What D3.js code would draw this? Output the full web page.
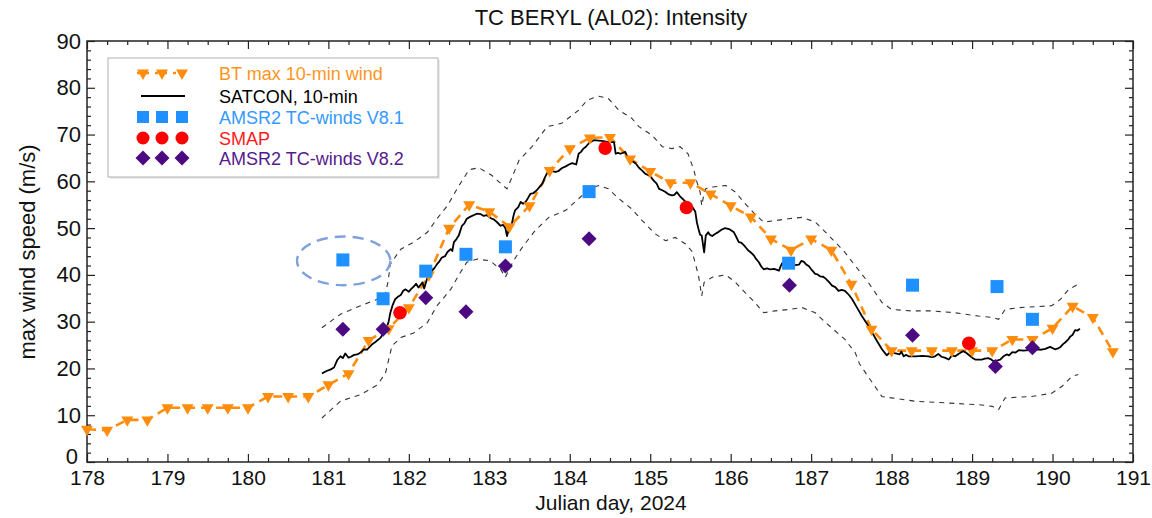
<!DOCTYPE html>
<html><head><meta charset="utf-8">
<script src="https://cdn.jsdelivr.net/npm/d3@7"></script>
<style>body{margin:0;background:#fff} text{font-family:"Liberation Sans",Arial,Helvetica,sans-serif}</style>
</head><body><svg id="c" width="1152" height="518"></svg>
<script>
const xTickLabels = [178,179,180,181,182,183,184,185,186,187,188,189,190,191];
const yTickLabels = [0,10,20,30,40,50,60,70,80,90];

const btDays = [178,178.25,178.5,178.75,179,179.25,179.5,179.75,180,180.25,180.5,180.75,181,181.25,181.5,181.75,182,182.25,182.5,182.75,183,183.25,183.5,183.75,184,184.25,184.5,184.75,185,185.25,185.5,185.75,186,186.25,186.5,186.75,187,187.25,187.5,187.75,188,188.25,188.5,188.75,189,189.25,189.5,189.75,190,190.25,190.5,190.75];
const btWind = [7.0,6.8,9.0,9.0,11.6,11.6,11.6,11.6,11.6,14.0,14.0,14.0,16.5,18.9,26.0,28.5,33.0,40.0,50.0,55.0,53.5,50.3,54.8,62.3,67.0,69.3,69.4,64.8,62.1,59.7,59.7,57.3,54.8,52.4,47.7,45.3,47.7,45.3,38.0,28.4,23.8,23.8,23.8,23.8,23.8,23.8,26.2,26.2,28.6,33.3,30.9,23.6];

const satcon = [[180.92,18.9],[180.97,19.4],[181.03,19.8],[181.07,20.2],[181.11,21.8],[181.15,22.6],[181.18,22.2],[181.21,23.2],[181.25,22.3],[181.28,22.5],[181.32,22.9],[181.36,23.0],[181.40,23.4],[181.44,24.1],[181.48,24.0],[181.54,25.1],[181.58,25.6],[181.65,26.6],[181.68,27.4],[181.71,28.0],[181.75,30.1],[181.77,31.9],[181.80,33.6],[181.83,34.8],[181.87,35.4],[181.90,35.7],[181.93,36.6],[181.96,36.9],[182.00,36.4],[182.03,37.0],[182.06,37.5],[182.09,38.1],[182.12,37.3],[182.17,38.4],[182.19,37.1],[182.23,39.4],[182.26,40.1],[182.29,40.9],[182.32,41.5],[182.35,42.3],[182.38,42.9],[182.41,43.7],[182.45,44.0],[182.48,44.9],[182.52,45.5],[182.54,45.1],[182.56,47.0],[182.59,47.6],[182.62,48.4],[182.66,50.5],[182.69,51.0],[182.72,52.0],[182.76,52.4],[182.81,52.8],[182.85,53.1],[182.89,53.0],[182.93,52.6],[182.97,52.8],[183.02,52.1],[183.06,51.8],[183.10,51.2],[183.14,50.5],[183.17,50.7],[183.20,50.0],[183.22,48.3],[183.24,49.6],[183.26,50.5],[183.28,50.9],[183.30,52.6],[183.32,53.8],[183.36,54.5],[183.39,55.6],[183.42,55.2],[183.45,55.6],[183.48,56.4],[183.51,57.3],[183.55,57.5],[183.59,58.1],[183.62,58.7],[183.66,59.5],[183.69,60.8],[183.72,61.8],[183.75,61.9],[183.78,62.2],[183.82,62.0],[183.86,62.2],[183.90,62.8],[183.95,63.2],[183.99,63.6],[184.03,63.9],[184.08,63.6],[184.11,65.9],[184.14,66.3],[184.17,67.0],[184.20,67.4],[184.24,68.2],[184.27,68.5],[184.30,68.8],[184.36,68.7],[184.42,68.6],[184.48,68.4],[184.55,68.4],[184.57,65.9],[184.60,66.1],[184.63,65.9],[184.69,66.3],[184.72,65.0],[184.75,64.1],[184.78,64.3],[184.82,63.8],[184.86,62.9],[184.90,62.3],[184.94,61.6],[184.98,61.3],[185.01,60.9],[185.04,60.2],[185.08,59.5],[185.11,58.4],[185.15,58.1],[185.19,57.7],[185.23,57.2],[185.27,57.0],[185.30,57.1],[185.33,57.7],[185.37,56.8],[185.40,56.3],[185.44,55.6],[185.48,55.2],[185.52,54.6],[185.56,53.5],[185.58,51.2],[185.60,49.8],[185.62,48.6],[185.64,48.4],[185.67,44.8],[185.69,48.4],[185.72,49.1],[185.74,48.6],[185.77,48.3],[185.81,48.8],[185.85,49.2],[185.89,49.7],[185.93,50.0],[185.98,49.8],[186.04,49.1],[186.07,48.1],[186.10,47.0],[186.13,46.9],[186.16,46.4],[186.19,45.8],[186.22,45.2],[186.25,44.8],[186.29,44.1],[186.32,43.3],[186.35,42.7],[186.38,41.8],[186.41,41.2],[186.45,41.4],[186.49,41.2],[186.54,41.3],[186.60,40.9],[186.62,41.8],[186.64,42.5],[186.68,42.4],[186.72,42.7],[186.76,42.3],[186.80,42.1],[186.85,42.2],[186.88,43.0],[186.91,42.8],[186.94,42.2],[186.97,41.9],[187.01,41.0],[187.05,40.2],[187.08,40.1],[187.11,39.7],[187.15,39.6],[187.18,39.2],[187.22,38.5],[187.26,37.7],[187.30,37.4],[187.34,36.6],[187.38,36.8],[187.42,36.6],[187.47,35.7],[187.51,34.8],[187.57,33.0],[187.63,31.2],[187.70,29.4],[187.76,27.6],[187.82,25.8],[187.88,24.1],[187.94,22.8],[187.97,23.3],[188.00,23.4],[188.05,23.2],[188.10,23.0],[188.12,23.6],[188.15,22.6],[188.18,22.9],[188.21,22.6],[188.30,22.6],[188.38,22.7],[188.46,22.6],[188.50,22.4],[188.54,22.6],[188.58,23.1],[188.62,22.5],[188.66,22.3],[188.71,21.9],[188.75,22.8],[188.79,22.6],[188.83,23.1],[188.86,23.4],[188.89,23.7],[188.93,23.3],[188.98,22.6],[189.01,22.2],[189.04,21.9],[189.08,21.9],[189.12,21.9],[189.16,22.1],[189.20,22.2],[189.23,22.0],[189.27,21.5],[189.31,21.7],[189.35,21.9],[189.39,22.6],[189.43,23.0],[189.46,22.8],[189.50,23.5],[189.54,23.4],[189.58,23.9],[189.64,23.8],[189.70,23.9],[189.76,24.0],[189.81,24.1],[189.86,24.0],[189.91,24.2],[189.97,24.6],[190.03,24.1],[190.07,24.3],[190.10,24.6],[190.13,25.2],[190.16,25.6],[190.19,26.1],[190.22,26.8],[190.25,27.2],[190.28,28.2],[190.31,28.1],[190.34,28.5]];

const satconUpper = [[180.92,28.7],[181.15,31.6],[181.40,33.4],[181.61,34.8],[181.70,35.5],[181.74,38.4],[181.77,42.3],[181.90,45.5],[182.06,47.0],[182.23,49.1],[182.35,52.0],[182.48,54.8],[182.62,59.0],[182.75,62.5],[182.87,62.9],[183.03,61.3],[183.12,59.9],[183.22,58.4],[183.30,61.6],[183.37,64.5],[183.53,67.4],[183.72,71.7],[183.90,72.4],[184.11,75.2],[184.22,77.4],[184.36,78.2],[184.48,77.7],[184.61,75.2],[184.77,73.5],[184.86,71.7],[185.02,69.9],[185.15,67.4],[185.27,67.0],[185.37,67.4],[185.47,65.9],[185.54,62.5],[185.58,59.9],[185.62,57.7],[185.64,54.8],[185.67,57.5],[185.69,58.4],[185.77,58.8],[185.94,59.1],[186.06,57.7],[186.16,55.6],[186.30,53.0],[186.41,51.3],[186.55,51.6],[186.72,52.0],[186.89,52.3],[187.05,51.3],[187.18,49.1],[187.30,47.0],[187.42,44.8],[187.55,41.9],[187.71,38.4],[187.88,34.1],[188.00,32.6],[188.25,32.3],[188.50,32.3],[188.79,31.9],[189.08,31.2],[189.25,30.9],[189.33,30.5],[189.41,32.6],[189.58,33.0],[189.99,33.4],[190.10,34.8],[190.20,36.9],[190.32,38.0]];

const satconLower = [[180.92,9.4],[181.15,13.0],[181.40,14.4],[181.61,16.5],[181.71,19.0],[181.74,21.2],[181.79,24.8],[181.90,26.6],[182.06,27.6],[182.23,29.8],[182.35,33.4],[182.52,36.9],[182.64,40.5],[182.72,42.7],[182.85,43.4],[183.01,43.0],[183.14,41.2],[183.20,39.5],[183.30,43.0],[183.41,45.9],[183.57,49.5],[183.74,52.3],[183.95,53.8],[184.13,56.6],[184.24,58.4],[184.36,59.1],[184.48,58.4],[184.61,56.3],[184.77,54.1],[184.90,51.6],[185.06,48.8],[185.19,47.3],[185.31,48.0],[185.44,46.6],[185.52,45.0],[185.56,42.5],[185.60,39.8],[185.64,35.5],[185.67,38.4],[185.77,39.5],[185.94,40.0],[186.06,38.4],[186.18,36.2],[186.30,34.1],[186.41,31.9],[186.55,32.3],[186.72,32.6],[186.89,33.0],[187.05,31.9],[187.18,29.8],[187.30,28.0],[187.42,26.2],[187.55,23.3],[187.60,21.0],[187.71,18.2],[187.88,14.0],[188.00,13.7],[188.29,13.0],[188.71,12.6],[189.12,12.2],[189.25,11.9],[189.33,11.2],[189.41,13.7],[189.74,14.0],[189.99,14.7],[190.12,16.2],[190.24,18.3],[190.32,18.7]];

const amsr81Days = [181.18,181.68,182.21,182.71,183.20,184.24,186.72,188.26,189.31,189.75];
const amsr81Wind = [43.2,34.9,40.8,44.4,46.0,57.8,42.5,37.8,37.5,30.5];
const smapDays = [181.89,184.44,185.45,188.96];
const smapWind = [31.9,67.1,54.4,25.4];
const amsr82Days = [181.18,181.68,182.21,182.71,183.20,184.24,186.73,188.26,189.29,189.75];
const amsr82Wind = [28.4,28.4,35.1,32.1,41.9,47.7,37.8,27.1,20.4,24.4];

const outlier = {day:181.19, wind:43.0, rxDays:0.58, ryWind:5.2};

const legendLabels = ["BT max 10-min wind","SATCON, 10-min","AMSR2 TC-winds V8.1","SMAP","AMSR2 TC-winds V8.2"];

const C = {bt:"#FF8C0A", blue:"#1E90FF", red:"#FF0000", purple:"#4B0A82", ell:"#7EA2DC"};

const svg = d3.select("#c");
const L=87, R=1133, T=41, B=462;
const x = d3.scaleLinear().domain([178,191]).range([L,R]);
const y = d3.scaleLinear().domain([0,90]).range([B,T]);

// title
svg.append("text").attr("x",(L+R)/2+1).attr("y",25).attr("text-anchor","middle")
  .attr("font-size",22).attr("fill","#111").text("TC BERYL (AL02): Intensity");

// axes
const minorX = d3.range(178,191.001,0.25).filter(v=>Math.abs(v-Math.round(v))>1e-6);
const minorY = d3.range(0,90.001,2).filter(v=>v%10!==0);
function ax(gen, tr, labels, fs){
  const g = svg.append("g").attr("transform",tr).call(gen);
  g.select(".domain").remove();
  g.selectAll("line").attr("stroke","#222").attr("stroke-width",1.2);
  if(!labels) g.selectAll("text").remove();
  else g.selectAll("text").attr("font-size",fs).attr("fill","#111").attr("font-family",'"Liberation Sans",Arial,sans-serif');
  return g;
}
ax(d3.axisBottom(x).tickValues(xTickLabels).tickFormat(d3.format("d")).tickSize(-8).tickPadding(8), `translate(0,${B})`, true, 21);
ax(d3.axisBottom(x).tickValues(minorX).tickSize(-4), `translate(0,${B})`, false);
ax(d3.axisTop(x).tickValues(xTickLabels).tickSize(-8), `translate(0,${T})`, false);
ax(d3.axisTop(x).tickValues(minorX).tickSize(-4), `translate(0,${T})`, false);
const yl = ax(d3.axisLeft(y).tickValues(yTickLabels).tickFormat(d3.format("d")).tickSize(-8).tickPadding(6), `translate(${L},0)`, true, 22);
yl.selectAll("text").filter(d=>d===0).attr("dy","0.05em").attr("x",-9);
ax(d3.axisLeft(y).tickValues(minorY).tickSize(-4), `translate(${L},0)`, false);
ax(d3.axisRight(y).tickValues(yTickLabels).tickSize(-8), `translate(${R},0)`, false);
ax(d3.axisRight(y).tickValues(minorY).tickSize(-4), `translate(${R},0)`, false);
svg.append("rect").attr("x",L).attr("y",T).attr("width",R-L).attr("height",B-T)
  .attr("fill","none").attr("stroke","#222").attr("stroke-width",1.5);

svg.append("text").attr("x",611).attr("y",510).attr("text-anchor","middle").attr("font-size",21).attr("fill","#111").text("Julian day, 2024");
svg.append("text").attr("transform","translate(35,252) rotate(-90)").attr("text-anchor","middle").attr("font-size",22).attr("fill","#111").text("max wind speed (m/s)");

const line = d3.line().x(d=>x(d[0])).y(d=>y(d[1]));

// bounds
[satconUpper, satconLower].forEach(b=>{
  svg.append("path").datum(b).attr("d",line).attr("fill","none").attr("stroke","#333")
    .attr("stroke-width",1.1).attr("stroke-dasharray","5,5");
});
// BT line
const bt = btDays.map((d,i)=>[d,btWind[i]]);
svg.append("path").datum(bt).attr("d",line).attr("fill","none").attr("stroke",C.bt)
  .attr("stroke-width",2.6).attr("stroke-dasharray","9,6");
// SATCON
svg.append("path").datum(satcon).attr("d",line).attr("fill","none").attr("stroke","#000")
  .attr("stroke-width",1.8).attr("stroke-linejoin","round");
// BT triangles
const tri = d3.symbol(d3.symbolTriangle, 62);
svg.append("g").selectAll("path").data(bt).join("path").attr("d",tri)
  .attr("transform",d=>`translate(${x(d[0])},${y(d[1])}) rotate(180)`).attr("fill",C.bt);

// ellipse
svg.append("ellipse").attr("cx",x(outlier.day)).attr("cy",y(outlier.wind))
  .attr("rx",x(outlier.day+outlier.rxDays)-x(outlier.day)).attr("ry",y(outlier.wind)-y(outlier.wind+outlier.ryWind))
  .attr("fill","none").attr("stroke",C.ell).attr("stroke-width",2.4).attr("stroke-dasharray","11,7");

// scatter
svg.append("g").selectAll("rect").data(amsr81Days).join("rect")
  .attr("x",(d)=>x(d)-6.5).attr("y",(d,i)=>y(amsr81Wind[i])-6.5).attr("width",13).attr("height",13).attr("fill",C.blue);
svg.append("g").selectAll("circle").data(smapDays).join("circle")
  .attr("cx",d=>x(d)).attr("cy",(d,i)=>y(smapWind[i])).attr("r",6.8).attr("fill",C.red);
svg.append("g").selectAll("rect").data(amsr82Days).join("rect")
  .attr("x",-5.3).attr("y",-5.3).attr("width",10.6).attr("height",10.6)
  .attr("transform",(d,i)=>`translate(${x(d)},${y(amsr82Wind[i])}) rotate(45)`).attr("fill",C.purple);

// legend
const lg = svg.append("g");
lg.append("rect").attr("x",110).attr("y",60).attr("width",330).attr("height",119).attr("fill","#ececec");
lg.append("rect").attr("x",108).attr("y",58).attr("width",330).attr("height",119).attr("fill","#fff").attr("stroke","#b0b0b0").attr("stroke-width",1);
const sx=[143,162,182], rows=[73,96,117,138,158];
const tcol=["#FF9520","#000","#3399FF","#FF1A1A","#561A8C"];
legendLabels.forEach((t,i)=>{
  lg.append("text").attr("x",219).attr("y",rows[i]+6.5).attr("font-size",18).attr("fill",tcol[i]).text(t);
});
lg.append("line").attr("x1",137).attr("x2",188).attr("y1",rows[0]).attr("y2",rows[0]).attr("stroke",C.bt).attr("stroke-width",2.4).attr("stroke-dasharray","3,6");
sx.forEach(px=>{
  lg.append("path").attr("d",tri).attr("transform",`translate(${px},${rows[0]}) rotate(180)`).attr("fill",C.bt);
  lg.append("rect").attr("x",px-6).attr("y",rows[2]-6).attr("width",12).attr("height",12).attr("fill",C.blue);
  lg.append("circle").attr("cx",px).attr("cy",rows[3]).attr("r",6.5).attr("fill",C.red);
  lg.append("rect").attr("x",-5.3).attr("y",-5.3).attr("width",10.6).attr("height",10.6).attr("transform",`translate(${px},${rows[4]}) rotate(45)`).attr("fill",C.purple);
});
lg.append("line").attr("x1",141).attr("x2",185).attr("y1",rows[1]).attr("y2",rows[1]).attr("stroke","#000").attr("stroke-width",1.8);
</script></body></html>
